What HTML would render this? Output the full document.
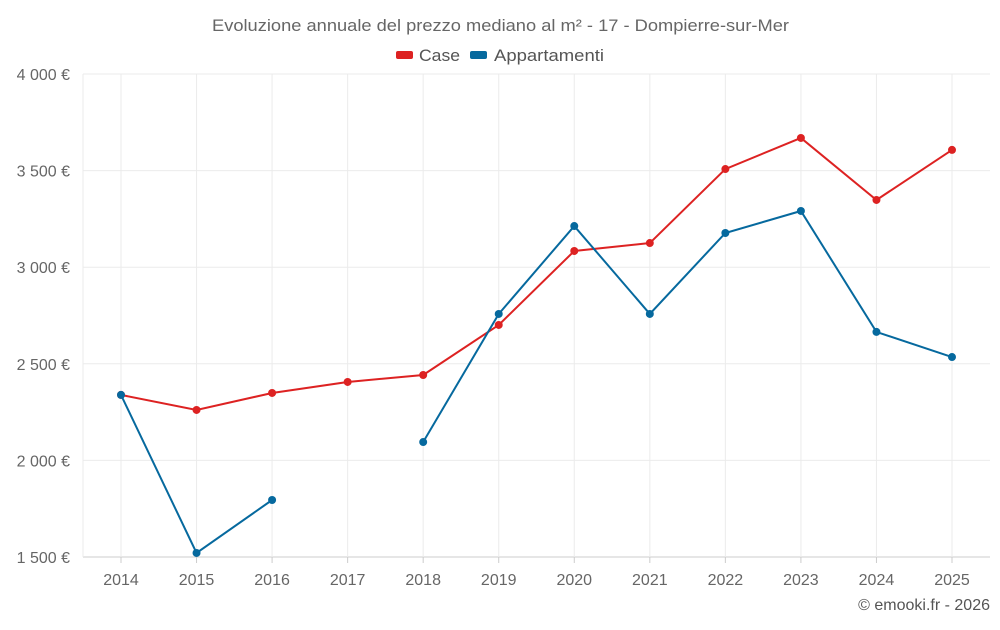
<!DOCTYPE html>
<html><head><meta charset="utf-8"><style>
body{margin:0;background:#fff;font-family:"Liberation Sans",sans-serif;}
svg text{font-family:"Liberation Sans",sans-serif;}
</style></head><body>
<svg id="chart" width="1000" height="625">
<text x="212" y="31" textLength="577" lengthAdjust="spacingAndGlyphs" font-size="17" fill="#666">Evoluzione annuale del prezzo mediano al m² - 17 - Dompierre-sur-Mer</text>
<g><rect x="396" y="51" width="17" height="8" rx="2" fill="#dd2222"/><text x="419" y="61" font-size="17" textLength="41" lengthAdjust="spacingAndGlyphs" fill="#555">Case</text></g>
<g><rect x="470" y="51" width="17" height="8" rx="2" fill="#06699e"/><text x="494" y="61" font-size="17" textLength="110" lengthAdjust="spacingAndGlyphs" fill="#555">Appartamenti</text></g>
<g id="grid"></g><g id="axes"></g><g id="series"></g>
<text x="990" y="610" text-anchor="end" font-size="16" fill="#555">© emooki.fr - 2026</text>
</svg>
<script>
const years=[2014,2015,2016,2017,2018,2019,2020,2021,2022,2023,2024,2025];
const caseValues=[2339,2261,2349,2406,2442,2701,3084,3125,3508,3669,3348,3607];
const apptValues=[2339,1521,1795,null,2095,2758,3213,2758,3177,3291,2665,2535];
const yTicks=[1500,2000,2500,3000,3500,4000];
const yTickLabels=["1 500 €","2 000 €","2 500 €","3 000 €","3 500 €","4 000 €"];
const L=83,R=990,T=74,B=557,ns="http://www.w3.org/2000/svg";
const x=i=>121+i*(952-121)/(years.length-1);
const y=v=>B-(v-1500)/(4000-1500)*(B-T);
function mk(t,a,p){const e=document.createElementNS(ns,t);for(const k in a)e.setAttribute(k,a[k]);p.appendChild(e);return e;}
const g=document.getElementById('grid'),ax=document.getElementById('axes'),s=document.getElementById('series');
yTicks.forEach((v,i)=>{
 const l=mk('line',{x1:L,x2:R,y1:y(v),y2:y(v),stroke:i==0?'#ccc':'#ebebeb'},g);
 
 
 const t=mk('text',{x:70,y:y(v)+6,'text-anchor':'end','font-size':16,fill:'#666'},ax);
 t.textContent=yTickLabels[i];
 
 
});
mk('line',{x1:L,x2:L,y1:T,y2:B,stroke:'#ebebeb'},g);
years.forEach((yr,i)=>{
 const l=mk('line',{x1:x(i),x2:x(i),y1:T,y2:B,stroke:'#ebebeb'},g);
 
 
 mk('line',{x1:x(i),x2:x(i),y1:B,y2:B+6,stroke:'#ccc'},ax);
 const t=mk('text',{x:x(i),y:585,'text-anchor':'middle','font-size':16,fill:'#666'},ax);
 t.textContent=yr;
 
 
});
function draw(vals,color,name){
 let d='',pen=false;
 vals.forEach((v,i)=>{if(v==null){pen=false;return;}d+=(pen?'L':'M')+x(i)+' '+y(v)+' ';pen=true;});
 const p=mk('path',{d:d,fill:'none',stroke:color,'stroke-width':2},s);
 
 
 vals.forEach((v,i)=>{if(v==null)return;
  const c=mk('circle',{cx:x(i),cy:y(v),r:4,fill:color},s);
  
  
 });
}
draw(caseValues,'#dd2222','case');
draw(apptValues,'#06699e','appartamenti');
</script>
</body></html>
